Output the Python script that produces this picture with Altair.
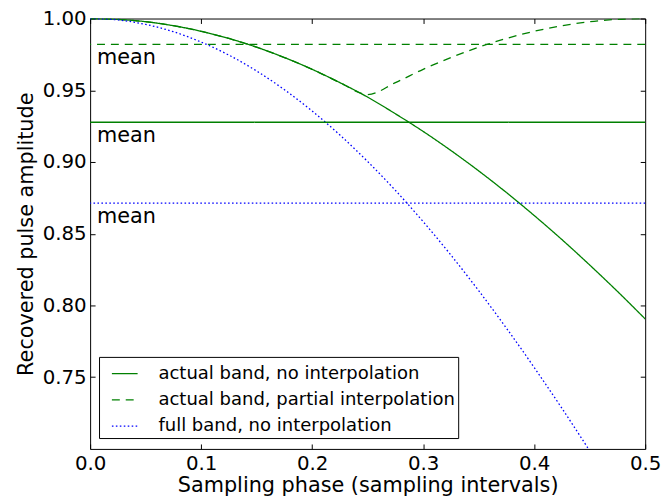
import altair as alt
import pandas as pd

# ---- data ----
phase = [0.0, 0.025, 0.05, 0.075, 0.1, 0.125, 0.15, 0.175, 0.2, 0.225, 0.25,
         0.275, 0.3, 0.325, 0.35, 0.375, 0.4, 0.425, 0.45, 0.475, 0.5]
no_interp = [1.0, 0.9994, 0.9978, 0.9950, 0.9911, 0.9861, 0.9800, 0.9728, 0.9646, 0.9553, 0.9452,
             0.9336, 0.9213, 0.9080, 0.8938, 0.8787, 0.8627, 0.8459, 0.8282, 0.8098, 0.7906]
partial_interp = [1.0, 0.9994, 0.9978, 0.9950, 0.9911, 0.9861, 0.9800, 0.9728, 0.9646, 0.9553, 0.9470,
                  0.9553, 0.9646, 0.9728, 0.9800, 0.9861, 0.9911, 0.9950, 0.9978, 0.9994, 1.0]
full_band = [1.0, 0.9990, 0.9959, 0.9908, 0.9836, 0.9745, 0.9634, 0.9504, 0.9355, 0.9188, 0.9003,
             0.8802, 0.8584, 0.8351, 0.8103, 0.7842, 0.7568, 0.7283, 0.6987]
series_names = ["actual band, no interpolation",
                "actual band, partial interpolation",
                "full band, no interpolation"]
means = [0.9277, 0.9820, 0.8713]
mean_label = "mean"
x_ticks = [0.0, 0.1, 0.2, 0.3, 0.4, 0.5]
y_ticks = [0.75, 0.80, 0.85, 0.90, 0.95, 1.00]

rows = []
for name, vals in zip(series_names, [no_interp, partial_interp, full_band]):
    for xv, yv in zip(phase, vals):
        rows.append({"phase": xv, "amp": yv, "series": name})
df = pd.DataFrame(rows)
mean_df = pd.DataFrame({"series": series_names, "mean": means,
                        "label": [mean_label] * 3, "x0": [phase[0]] * 3})

W, H = 561, 435
FONT = "DejaVu Sans"
xscale = alt.Scale(domain=[0.0, 0.5], nice=False, zero=False)
yscale = alt.Scale(domain=[0.70, 1.0], nice=False, zero=False)

color = alt.Color("series:N",
                  scale=alt.Scale(domain=series_names, range=["#008000", "#008000", "#0000ff"]),
                  legend=alt.Legend(title=None))
dash = alt.StrokeDash("series:N",
                      scale=alt.Scale(domain=series_names, range=[[1, 0], [8, 6], [1.6, 2.4]]),
                      legend=alt.Legend(title=None))
width_enc = alt.StrokeWidth("series:N",
                            scale=alt.Scale(domain=series_names, range=[1.3, 1.3, 1.7]),
                            legend=None)

lines = alt.Chart(df).mark_line(clip=True, interpolate="monotone").encode(
    x=alt.X("phase:Q", scale=xscale,
            axis=alt.Axis(orient="bottom", values=x_ticks, format=".1f", ticks=False, tickSize=0,
                          domain=False, grid=False, labelFlush=False, labelOverlap=False,
                          labelPadding=5, labelFontSize=20, title="Sampling phase (sampling intervals)",
                          titleFontSize=21, titlePadding=1)),
    y=alt.Y("amp:Q", scale=yscale,
            axis=alt.Axis(orient="left", values=y_ticks, format=".2f", ticks=False, tickSize=0,
                          domain=False, grid=False, labelFlush=False, labelOverlap=False,
                          labelPadding=4, labelFontSize=20, title="Recovered pulse amplitude",
                          titleFontSize=21, titlePadding=6)),
    color=color,
    strokeDash=dash,
    strokeWidth=width_enc,
    order=alt.Order("phase:Q"),
)

mean_rules = alt.Chart(mean_df).mark_rule().encode(
    y=alt.Y("mean:Q", scale=yscale, axis=None),
    color=color,
    strokeDash=dash,
    strokeWidth=width_enc,
)

mean_text = alt.Chart(mean_df).mark_text(align="left", baseline="alphabetic", dx=7, dy=20,
                                         fontSize=21, font=FONT, color="black").encode(
    x=alt.X("x0:Q", scale=xscale, axis=None),
    y=alt.Y("mean:Q", scale=yscale, axis=None),
    text="label:N",
)

tick_common = dict(labels=False, domain=False, grid=False, title=None, ticks=True,
                   tickSize=5, tickColor="black", tickWidth=1)

ticks_a = alt.Chart(df).mark_point(opacity=0).encode(
    x=alt.X("phase:Q", scale=xscale,
            axis=alt.Axis(orient="top", offset=-H, values=x_ticks, **tick_common)),
    y=alt.Y("amp:Q", scale=yscale,
            axis=alt.Axis(orient="right", offset=-W, values=y_ticks, **tick_common)),
)
ticks_b = alt.Chart(df).mark_point(opacity=0).encode(
    x=alt.X("phase:Q", scale=xscale,
            axis=alt.Axis(orient="bottom", offset=-H, values=x_ticks, **tick_common)),
    y=alt.Y("amp:Q", scale=yscale,
            axis=alt.Axis(orient="left", offset=-W, values=y_ticks, **tick_common)),
)

chart = alt.layer(lines, mean_rules, mean_text, ticks_a, ticks_b).resolve_axis(
    x="independent", y="independent"
).properties(
    width=W, height=H,
    autosize=alt.AutoSizeParams(type="none"),
    padding={"left": 83, "top": 8, "right": 18, "bottom": 50},
).configure_view(
    stroke="black", strokeWidth=1
).configure_axis(
    labelFont=FONT, titleFont=FONT, labelColor="black", titleColor="black",
    titleFontWeight="normal",
).configure_legend(
    orient="none", legendX=9, legendY=342,
    fillColor="white", strokeColor="black", cornerRadius=0,
    padding=3, symbolOffset=9, symbolType="stroke", symbolSize=676, symbolStrokeWidth=1.3,
    labelOffset=20, labelFontSize=18.2, labelFont=FONT, labelColor="black", labelLimit=500,
    rowPadding=3.5,
)

chart.save("out.html", embed_options={"renderer": "svg", "actions": False})
